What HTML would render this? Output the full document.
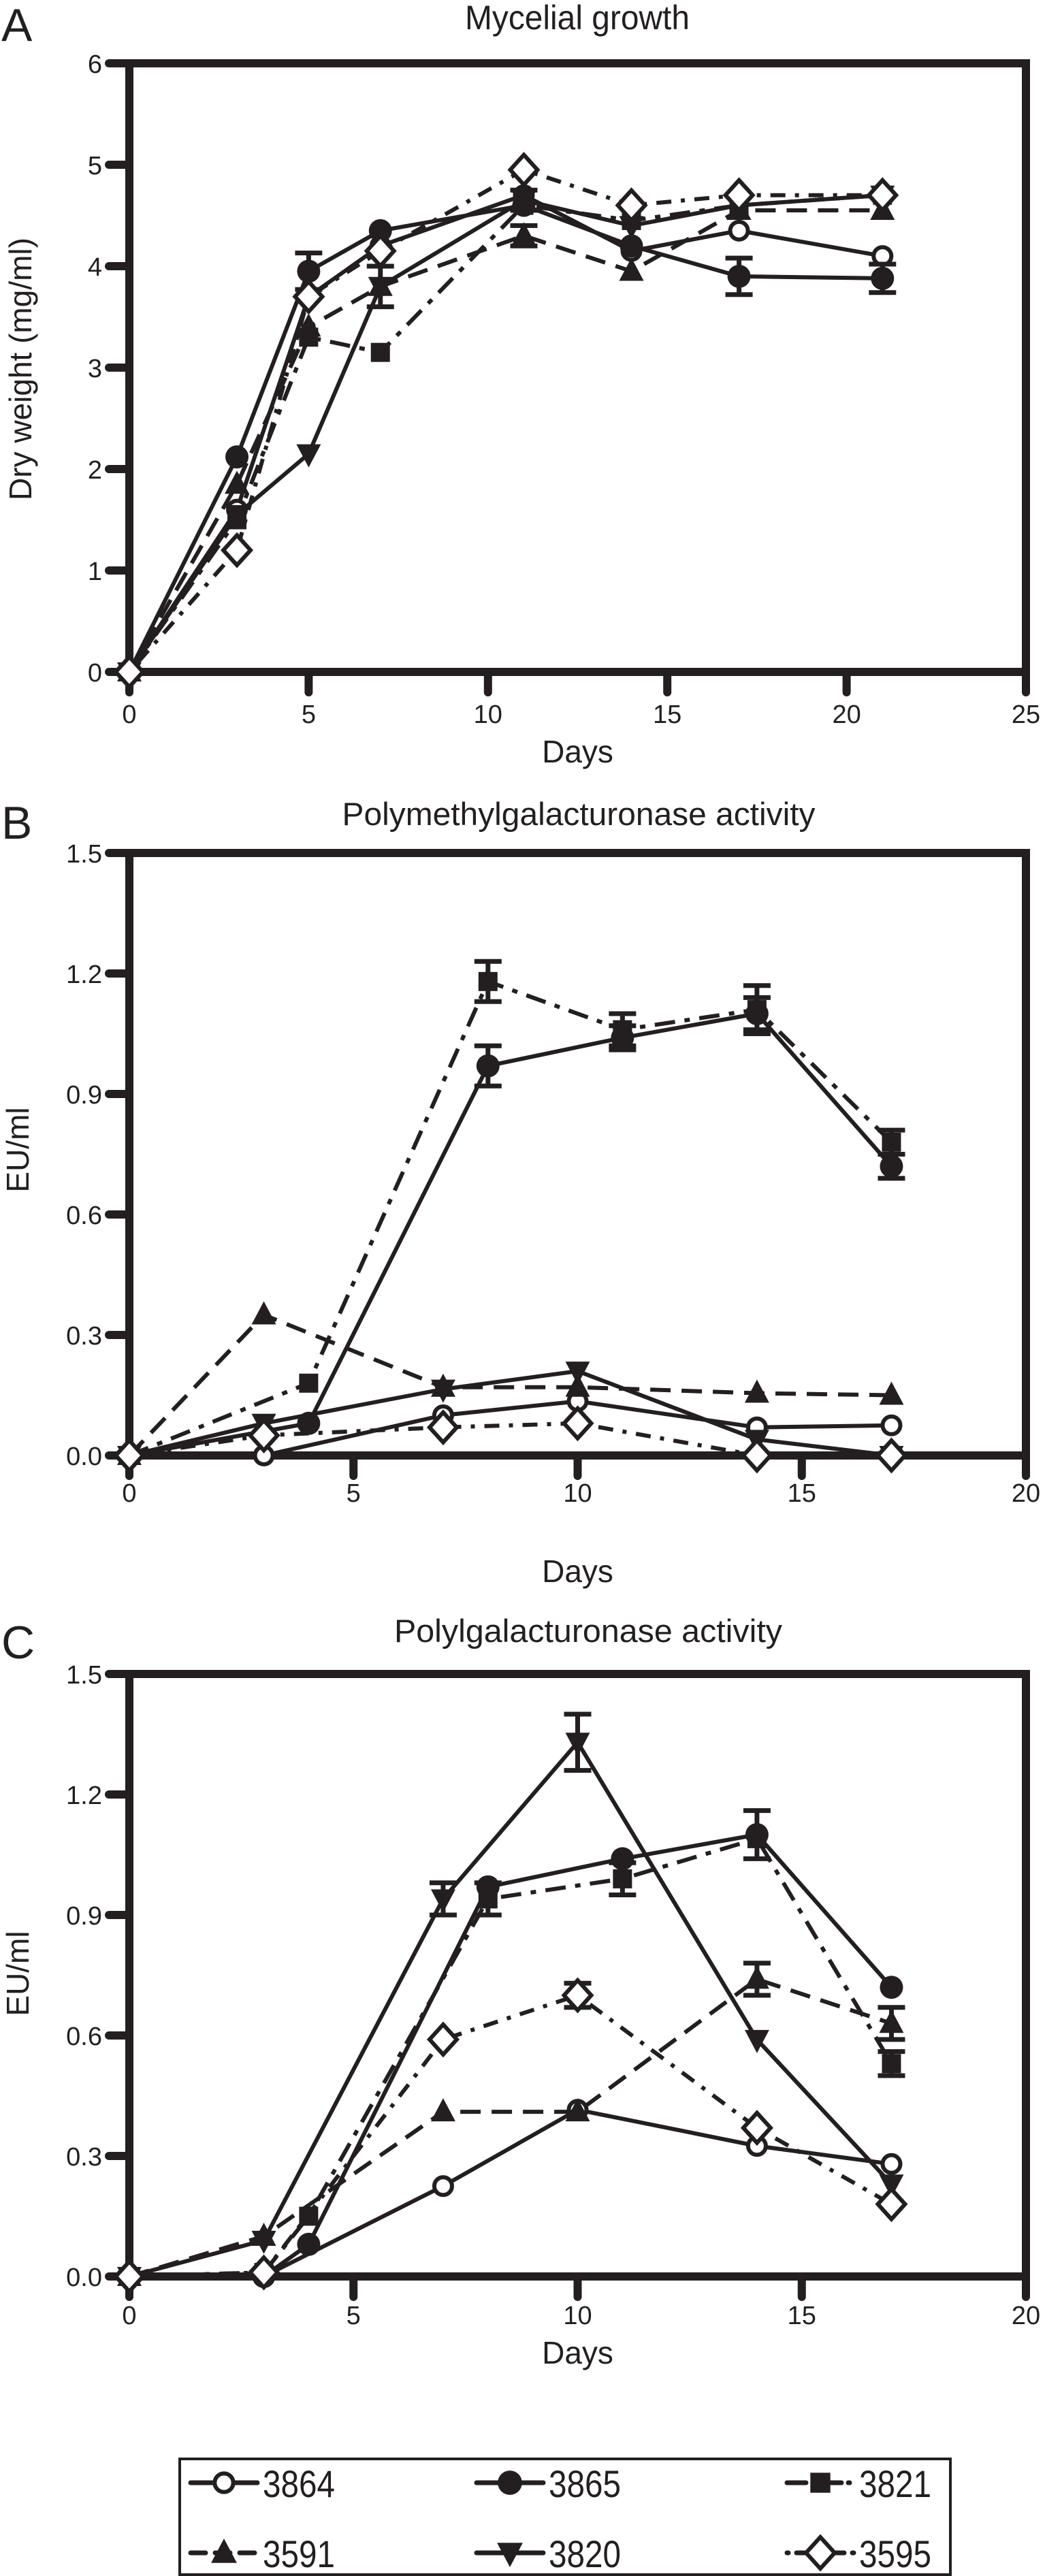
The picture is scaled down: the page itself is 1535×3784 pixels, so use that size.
<!DOCTYPE html>
<html><head><meta charset="utf-8"><style>
html,body{margin:0;padding:0;background:#fff}
svg{display:block}
text{font-family:"Liberation Sans",sans-serif;fill:#231f20}
</style></head><body>
<svg id="fig" xmlns="http://www.w3.org/2000/svg" width="1535" height="3784" viewBox="0 0 1535 3784">
<g id="root"></g>
<g>
<rect x="264" y="3612" width="1132" height="170" fill="none" stroke="#231f20" stroke-width="4"/>
<g id="legendItems"></g>
</g>
</svg>
<script>
// ---- Panel A: Mycelial growth (Dry weight mg/ml) ----
const daysA = [0, 3, 5, 7, 11, 14, 17, 21];
const a3864 = [0, 1.60, 3.70, 4.20, 4.70, 4.15, 4.35, 4.10];
const a3865 = [0, 2.12, 3.95, 4.35, 4.60, 4.20, 3.90, 3.88];
const a3821 = [0, 1.50, 3.30, 3.15, 4.60, 4.45, 4.60, 4.70];
const a3591 = [0, 1.85, 3.40, 3.80, 4.30, 3.95, 4.55, 4.55];
const a3820 = [0, 1.55, 2.15, 3.80, 4.65, 4.40, 4.60, 4.70];
const a3595 = [0, 1.20, 3.70, 4.15, 4.95, 4.60, 4.70, 4.70];
const errA3865 = [0, 0, 0.18, 0, 0, 0, 0.18, 0.14];
const errA3820 = [0, 0, 0, 0.2, 0.1, 0, 0, 0];
const errA3591 = [0, 0, 0, 0, 0.1, 0, 0, 0];
const yTicksA = ["0","1","2","3","4","5","6"];
const xTicksA = ["0","5","10","15","20","25"];

// ---- Panel B: Polymethylgalacturonase activity (EU/ml) ----
const daysB = [0, 3, 4, 7, 8, 10, 11, 14, 17];
const b3864 = [0, 0, null, 0.10, null, 0.135, null, 0.07, 0.075];
const b3865 = [0, null, 0.08, null, 0.97, null, 1.04, 1.10, 0.72];
const b3821 = [0, null, 0.18, null, 1.18, null, 1.06, 1.11, 0.78];
const b3591 = [0, 0.35, null, 0.17, null, 0.17, null, 0.155, 0.15];
const b3820 = [0, 0.08, null, 0.165, null, 0.21, null, 0.04, 0];
const b3595 = [0, 0.05, null, 0.07, null, 0.08, null, 0, 0];
const errB3865 = [0, 0, 0, 0, 0.05, 0, 0.03, 0.04, 0.03];
const errB3821 = [0, 0, 0, 0, 0.05, 0, 0.04, 0.06, 0.03];
const yTicksB = ["0.0","0.3","0.6","0.9","1.2","1.5"];
const xTicksB = ["0","5","10","15","20"];

// ---- Panel C: Polylgalacturonase activity (EU/ml) ----
const daysC = [0, 3, 4, 7, 8, 10, 11, 14, 17];
const c3864 = [0, 0, null, 0.225, null, 0.415, null, 0.325, 0.28];
const c3865 = [0, 0, 0.08, null, 0.97, null, 1.04, 1.10, 0.72];
const c3821 = [0, 0.01, 0.15, null, 0.94, null, 0.99, 1.09, 0.53];
const c3591 = [0, 0.10, null, 0.41, null, 0.41, null, 0.74, 0.63];
const c3820 = [0, 0.09, null, 0.94, null, 1.33, null, 0.59, 0.23];
const c3595 = [0, 0.01, null, 0.59, null, 0.70, null, 0.37, 0.18];
const errC3820 = [0, 0, 0, 0.04, 0, 0.07, 0, 0, 0];
const errC3865 = [0, 0, 0, 0, 0, 0, 0, 0.06, 0];
const errC3821 = [0, 0, 0, 0, 0.04, 0, 0.04, 0, 0.03];
const errC3591 = [0, 0, 0, 0, 0, 0, 0, 0.04, 0.04];
const errC3595 = [0, 0, 0, 0, 0, 0.03, 0, 0, 0];
const yTicksC = ["0.0","0.3","0.6","0.9","1.2","1.5"];
const xTicksC = ["0","5","10","15","20"];

const legendNames = ["3864","3865","3821","3591","3820","3595"];

const NS = "http://www.w3.org/2000/svg";
const INK = "#231f20";
const styles = {
  "3864": {dash: null, marker: "ocircle"},
  "3865": {dash: null, marker: "fcircle"},
  "3821": {dash: "30 14 8 14", marker: "square"},
  "3591": {dash: "30 16", marker: "tri"},
  "3820": {dash: null, marker: "dtri"},
  "3595": {dash: "6 14 22 14", marker: "diamond"}
};
function el(tag, attrs, parent) {
  const e = document.createElementNS(NS, tag);
  for (const k in attrs) e.setAttribute(k, attrs[k]);
  parent.appendChild(e);
  return e;
}
function marker(type, x, y, g, s) {
  s = s || 1;
  let m;
  if (type === "ocircle") m = el("circle", {cx:x, cy:y, r:13*s, fill:"#fff", stroke:INK, "stroke-width":6}, g);
  else if (type === "fcircle") m = el("circle", {cx:x, cy:y, r:17*s, fill:INK}, g);
  else if (type === "square") m = el("rect", {x:x-14*s, y:y-14*s, width:28*s, height:28*s, fill:INK}, g);
  else if (type === "tri") m = el("polygon", {points:`${x},${y-20*s} ${x+18*s},${y+14*s} ${x-18*s},${y+14*s}`, fill:INK}, g);
  else if (type === "dtri") m = el("polygon", {points:`${x},${y+20*s} ${x+18*s},${y-14*s} ${x-18*s},${y-14*s}`, fill:INK}, g);
  else m = el("polygon", {points:`${x},${y-22*s} ${x+20*s},${y} ${x},${y+22*s} ${x-20*s},${y}`, fill:"#fff", stroke:INK, "stroke-width":6}, g);
  
  
  return m;
}
const root = document.getElementById("root");

function panel(opt) {
  const g = el("g", {}, root);
  
  
  const L = opt.left, R = opt.right, T = opt.top, B = opt.bottom;
  const X = d => L + (d - opt.xmin) / (opt.xmax - opt.xmin) * (R - L);
  const Y = v => B - (v - opt.ymin) / (opt.ymax - opt.ymin) * (B - T);
  const lt = el("text", {x:2, y:opt.letterY, "font-size":68}, g); lt.textContent = opt.letter;
  
  
  const tt = el("text", {x:opt.titleX, y:opt.titleY, "font-size":opt.titleSize, "text-anchor":"middle", textLength:opt.titleLen, lengthAdjust:"spacingAndGlyphs"}, g); tt.textContent = opt.title;
  
  
  const fr = el("rect", {x:L, y:T, width:R-L, height:B-T, fill:"none", stroke:INK, "stroke-width":12}, g);
  
  
  opt.yTicks.forEach((t) => {
    const v = parseFloat(t), y = Y(v);
    const tk = el("line", {x1:L-30, y1:y, x2:L, y2:y, stroke:INK, "stroke-width":12, "stroke-linecap":"round"}, g);
    
    
    const tx = el("text", {x:L-40, y:y+14, "font-size":38, "text-anchor":"end"}, g); tx.textContent = t;
    
    
  });
  opt.xTicks.forEach((t) => {
    const v = parseFloat(t), x = X(v);
    const tk = el("line", {x1:x, y1:B, x2:x, y2:B+30, stroke:INK, "stroke-width":12, "stroke-linecap":"round"}, g);
    
    
    const tx = el("text", {x:x, y:opt.xLabelY, "font-size":38, "text-anchor":"middle"}, g); tx.textContent = t;
    
    
  });
  const xt = el("text", {x:(L+R)/2, y:opt.xTitleY, "font-size":46, "text-anchor":"middle"}, g); xt.textContent = "Days";
  
  
  const yt = el("text", {x:0, y:0, "font-size":46, "text-anchor":"middle", transform:`translate(${opt.yTitleX},${opt.yTitleY}) rotate(-90)`}, g); yt.textContent = opt.yTitle;
  
  
  opt.series.forEach(s => {
    const st = styles[s.id];
    const sg = el("g", {}, g);
    
    
    const pts = [];
    opt.days.forEach((d, i) => { if (s.vals[i] !== null) pts.push([X(d), Y(s.vals[i]), i]); });
    const p = el("polyline", {points: pts.map(q => q[0]+","+q[1]).join(" "), fill:"none", stroke:INK, "stroke-width":6, "stroke-linejoin":"round"}, sg);
    if (st.dash) p.setAttribute("stroke-dasharray", st.dash);
    
    
    if (s.err) pts.forEach(q => {
      const e = s.err[q[2]];
      if (e > 0) {
        const v = s.vals[q[2]];
        const y1 = Y(v + e), y2 = Y(v - e), x = q[0];
        const eb = el("path", {d:`M${x},${y1}V${y2}M${x-20},${y1}H${x+20}M${x-20},${y2}H${x+20}`, stroke:INK, "stroke-width":7, fill:"none"}, sg);
        
        
      }
    });
    pts.forEach(q => marker(st.marker, q[0], q[1], sg));
  });
}

panel({name:"panel-a-mycelial-growth", letter:"A", letterY:60, title:"Mycelial growth", titleX:848, titleY:43, titleSize:50, titleLen:330,
  left:190, right:1507, top:93, bottom:987, xmin:0, xmax:25, ymin:0, ymax:6,
  yTicks:yTicksA, xTicks:xTicksA, xLabelY:1062, xTitleY:1120, yTitle:"Dry weight (mg/ml)", yTitleX:46, yTitleY:542,
  days:daysA, series:[
    {id:"3864", vals:a3864}, {id:"3865", vals:a3865, err:errA3865}, {id:"3821", vals:a3821},
    {id:"3591", vals:a3591, err:errA3591}, {id:"3820", vals:a3820, err:errA3820}, {id:"3595", vals:a3595}]});

panel({name:"panel-b-pmg-activity", letter:"B", letterY:1232, title:"Polymethylgalacturonase activity", titleX:850, titleY:1212, titleSize:47, titleLen:695,
  left:190, right:1507, top:1253, bottom:2138, xmin:0, xmax:20, ymin:0, ymax:1.5,
  yTicks:yTicksB, xTicks:xTicksB, xLabelY:2206, xTitleY:2324, yTitle:"EU/ml", yTitleX:42, yTitleY:1689,
  days:daysB, series:[
    {id:"3864", vals:b3864}, {id:"3865", vals:b3865, err:errB3865}, {id:"3821", vals:b3821, err:errB3821},
    {id:"3591", vals:b3591}, {id:"3820", vals:b3820}, {id:"3595", vals:b3595}]});

panel({name:"panel-c-pg-activity", letter:"C", letterY:2436, title:"Polylgalacturonase activity", titleX:864, titleY:2412, titleSize:47, titleLen:570,
  left:190, right:1507, top:2459, bottom:3344, xmin:0, xmax:20, ymin:0, ymax:1.5,
  yTicks:yTicksC, xTicks:xTicksC, xLabelY:3414, xTitleY:3472, yTitle:"EU/ml", yTitleX:42, yTitleY:2899,
  days:daysC, series:[
    {id:"3864", vals:c3864}, {id:"3865", vals:c3865, err:errC3865}, {id:"3821", vals:c3821, err:errC3821},
    {id:"3591", vals:c3591, err:errC3591}, {id:"3820", vals:c3820, err:errC3820}, {id:"3595", vals:c3595, err:errC3595}]});

const lg = document.getElementById("legendItems");
const colX = [280, 700, 1156];
const rowY = [3647, 3750];
legendNames.forEach((n, i) => {
  const cx = colX[i % 3], cy = rowY[Math.floor(i / 3)];
  const st = styles[n];
  const g = el("g", {}, lg);
  
  
  const ln = el("line", {x1:cx, y1:cy, x2:cx+98, y2:cy, stroke:INK, "stroke-width":7, "stroke-linecap":"round"}, g);
  if (st.dash) ln.setAttribute("stroke-dasharray", st.dash === "30 16" ? "22 14" : (st.dash === "30 14 8 14" ? "28 10 2 12" : "2 12 22 12"));
  
  
  marker(st.marker, cx+49, cy, g, 1.05);
  const t = el("text", {x:cx+106, y:cy+21, "font-size":56, textLength:106, lengthAdjust:"spacingAndGlyphs"}, g);
  t.textContent = n;
  
  
});
</script>
</body></html>
